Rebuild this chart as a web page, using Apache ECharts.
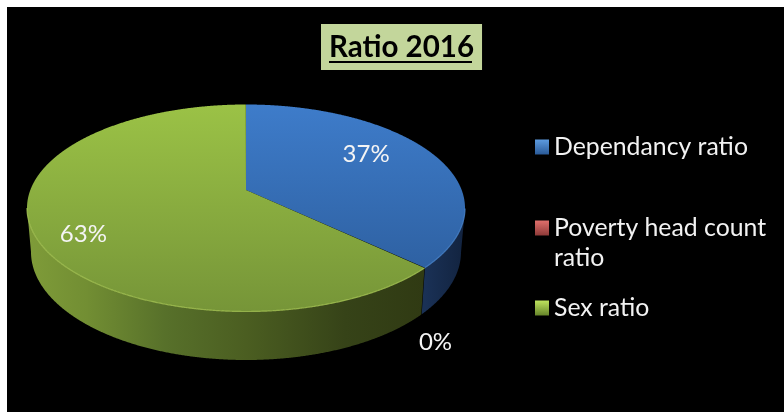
<!DOCTYPE html>
<html><head><meta charset="utf-8">
<style>html,body{margin:0;padding:0;background:#fff}#c{width:784px;height:412px}</style>
<script src="https://cdn.jsdelivr.net/npm/echarts@6/dist/echarts.min.js"></script>
</head><body><div id="c"></div>
<script>
// Data
var categories = ['Dependancy ratio', 'Poverty head count ratio', 'Sex ratio'];
var values = [37, 0, 63];
var titleText = 'Ratio 2016';

// Styles
var FONT = 'Lato, "Open Sans", sans-serif';
var topStops = [['#3E7CCA', '#2A5A98'], ['#C0504D', '#8E3A38'], ['#9BC246', '#769538']];
var rimColors = ['#4A86CE', '#C0504D', '#A6C655'];
var wallStops = [
  [[0, '#1A3156'], [1, '#12233F']],
  [[0, '#6E2B29'], [1, '#5A2220']],
  [[0, '#7F9C39'], [0.15, '#728E33'], [0.35, '#57702A'], [0.55, '#4B5E21'], [0.8, '#364318'], [1, '#303A13']]
];
var legendIcons = [['#5D9BE0', '#2A5A98'], ['#E0706C', '#8E3A38'], ['#BFE35E', '#66852A']];
var labelOffsets = [[-65, 2], [11, 74], [50, 1]];
var legendTops = [130, 211, 291];

// Pie geometry (perspective-projected disc)
var cx = 246, cy = 208, rx = 219, ry = 103.5;
var cxB = 246, cyB = 252, rxB = 215, ryB = 108;
var tilt = -0.174;
var total = values.reduce(function (a, b) { return a + b; }, 0);

function project(deg) {
  var t = deg * Math.PI / 180, u = Math.sin(t), v = -Math.cos(t);
  var d = 1 + tilt * v;
  return [u * Math.sqrt(1 - tilt * tilt) / d, (v + tilt) / d];
}
function topPt(p) { return [cx + rx * p[0], cy + ry * p[1]]; }
function botPt(p) { return [cxB + rxB * p[0], cyB + ryB * p[1]]; }
function startAngle(i) {
  var s = 0;
  for (var k = 0; k < i; k++) s += values[k];
  return s / total * 360;
}
function grad(x, y, x2, y2, stops) {
  return { type: 'linear', x: x, y: y, x2: x2, y2: y2, global: true,
    colorStops: stops.map(function (s) { return { offset: s[0], color: s[1] }; }) };
}

function renderSlice(idx) {
  return function () {
    var a0 = startAngle(idx), a1 = a0 + values[idx] / total * 360;
    var mid = topPt(project((a0 + a1) / 2));
    var children = [];
    if (values[idx] > 0) {
      var rim = [], wallT = [], wallB = [];
      for (var a = a0; a <= a1 + 1e-6; a += 0.25) {
        var p = project(a), q = topPt(p);
        rim.push(q);
        if (p[1] >= 0) { wallT.push(q); wallB.push(botPt(p)); }
      }
      var apex = [cx, cy + ry * tilt];
      var xs = wallT.map(function (q) { return q[0]; });
      if (wallT.length) {
        children.push({ type: 'polygon', z2: 1, shape: { points: wallT.concat(wallB.reverse()) },
          style: { fill: grad(Math.min.apply(null, xs), 0, Math.max.apply(null, xs), 0, wallStops[idx]) } });
        children.push({ type: 'polyline', z2: 3, shape: { points: wallT },
          style: { fill: null, stroke: rimColors[idx], lineWidth: 1.2, opacity: 0.8 } });
      }
      children.push({ type: 'polygon', z2: 2, shape: { points: [apex].concat(rim) },
        style: { fill: grad(0, cy - ry, 0, cy + ry, [[0, topStops[idx][0]], [1, topStops[idx][1]]]) } });
    }
    children.push({ type: 'text', z2: 5,
      style: { text: Math.round(values[idx] / total * 100) + '%',
        x: mid[0] + labelOffsets[idx][0], y: mid[1] + labelOffsets[idx][1],
        fill: '#F4F4F4', font: '24px ' + FONT, textAlign: 'center', textVerticalAlign: 'middle' } });
    return { type: 'group', children: children };
  };
}

var chart = echarts.init(document.getElementById('c'), null, { renderer: 'canvas' });
chart.setOption({
  animation: false,
  backgroundColor: '#fff',
  title: {
    text: titleText, left: 321, top: 24, padding: [8, 8, 8, 8],
    backgroundColor: '#C3D69B',
    textStyle: { fontFamily: FONT, fontWeight: 'bold', fontSize: 29.5, color: '#000', lineHeight: 30 }
  },
  legend: categories.map(function (name, i) {
    return {
      left: 535, top: legendTops[i], orient: 'vertical', selectedMode: false,
      itemWidth: 14, itemHeight: 15, padding: 0,
      data: [{ name: name, icon: 'rect',
        itemStyle: { color: { type: 'linear', x: 0, y: 0, x2: 0, y2: 1,
          colorStops: [{ offset: 0, color: legendIcons[i][0] }, { offset: 1, color: legendIcons[i][1] }] } } }],
      formatter: function (n) { return n === categories[1] ? 'Poverty head count' : n; },
      textStyle: { fontFamily: FONT, fontSize: 24.8, color: '#F2F2F2', lineHeight: 34 }
    };
  }),
  graphic: [
    { type: 'rect', z: -10, silent: true, shape: { x: 7, y: 7, width: 777, height: 405 }, style: { fill: '#000' } },
    { type: 'rect', z: 10, silent: true, shape: { x: 329, y: 61, width: 143, height: 2 }, style: { fill: '#000' } },
    { type: 'text', z: 10, silent: true, left: 554, top: 246,
      style: { text: 'ratio', fill: '#F2F2F2', font: '24.8px ' + FONT } }
  ],
  series: categories.map(function (name, i) {
    return { type: 'custom', name: name, coordinateSystem: 'none', silent: true,
      z: i === 2 ? 3 : 2, data: [values[i]], renderItem: renderSlice(i) };
  })
});
</script></body></html>
